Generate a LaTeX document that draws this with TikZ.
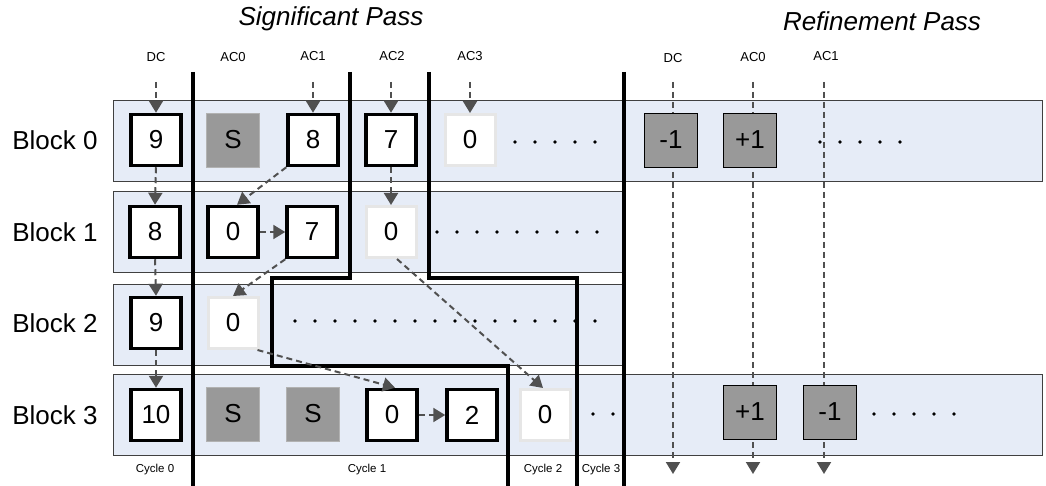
\documentclass[tikz,border=0pt]{standalone}
\usepackage{fontspec}
\setmainfont{Liberation Sans}
\usetikzlibrary{arrows.meta}
\definecolor{bandblue}{RGB}{230,236,247}
\definecolor{boxgray}{RGB}{153,153,153}
\definecolor{flowgray}{RGB}{80,80,80}
\definecolor{lightedge}{RGB}{230,230,230}
\tikzset{
  band/.style={fill=bandblue,draw=black!75,line width=0.9pt},
  sig/.style={draw=black,line width=3.5pt,fill=white,minimum width=50pt,minimum height=51pt,inner sep=0pt,font=\fontsize{26}{30}\selectfont},
  insig/.style={draw=lightedge,line width=3pt,fill=white,minimum width=50pt,minimum height=51pt,inner sep=0pt,font=\fontsize{26}{30}\selectfont},
  sbox/.style={draw=black!30,line width=0.8pt,fill=boxgray,minimum width=53pt,minimum height=54pt,inner sep=0pt,font=\fontsize{26}{30}\selectfont},
  refbox/.style={draw=black,line width=0.9pt,fill=boxgray,minimum width=53pt,minimum height=54pt,inner sep=0pt,font=\fontsize{26}{30}\selectfont},
  flow/.style={draw=flowgray,line width=2pt,dash pattern=on 6pt off 4pt,-{Triangle[length=12pt,width=14pt]}},
  wall/.style={draw=black,line width=3.2pt},
  blocklbl/.style={font=\fontsize{26}{30}\selectfont},
  collbl/.style={font=\fontsize{13}{15}\selectfont},
  cyclbl/.style={font=\fontsize{11.5}{13}\selectfont},
  title/.style={font=\fontsize{26}{30}\selectfont\itshape},
  dotmark/.style={fill=black,circle,inner sep=0pt,minimum size=3.8pt}
}
\begin{document}
\begin{tikzpicture}[x=1pt,y=-1pt]
\useasboundingbox (0,0) rectangle (1046,486);
% bands
\path[band] (113,100) rectangle (1042,181);
\path[band] (113,191) rectangle (622,272);
\path[band] (113,284) rectangle (622,365);
\path[band] (113,374) rectangle (1042,455);
% titles and labels
\node[title] (tsig) at (331,19) {Significant Pass};
\node[title] (tref) at (882,21) {Refinement Pass};
\node[collbl] (lDC) at (156,57) {DC};
\node[collbl] (lAC0) at (233,57) {AC0};
\node[collbl] (lAC1) at (313,56) {AC1};
\node[collbl] (lAC2) at (392,56) {AC2};
\node[collbl] (lAC3) at (470,56) {AC3};
\node[collbl] (rDC) at (673,58) {DC};
\node[collbl] (rAC0) at (753,57) {AC0};
\node[collbl] (rAC1) at (826,56) {AC1};
\node[blocklbl] (bl0) at (55,140) {Block 0};
\node[blocklbl] (bl1) at (55,232) {Block 1};
\node[blocklbl] (bl2) at (55,323) {Block 2};
\node[blocklbl] (bl3) at (55,415) {Block 3};
\node[cyclbl] (cy0) at (155,470) {Cycle 0};
\node[cyclbl] (cy1) at (367,470) {Cycle 1};
\node[cyclbl] (cy2) at (543,470) {Cycle 2};
\node[cyclbl] (cy3) at (601,470) {Cycle 3};
% refinement pass flow lines (behind boxes)
\coordinate (rt0) at (673,82); \coordinate (re0) at (673,474);
\coordinate (rt1) at (753,82); \coordinate (re1) at (753,474);
\coordinate (rt2) at (824,82); \coordinate (re2) at (824,474);
\draw[flow] (rt0) -- (re0);
\draw[flow] (rt1) -- (re1);
\draw[flow] (rt2) -- (re2);
% cycle walls
\draw[wall] (193,72) -- (193,486);
\draw[wall] (350,72) -- (350,278) -- (272,278) -- (272,366) -- (508,366) -- (508,486);
\draw[wall] (429,72) -- (429,278) -- (577,278) -- (577,486);
\draw[wall] (624,72) -- (624,486);
% block 0
\node[sig] (b0c0) at (156,140) {9};
\node[sbox] (b0c1) at (233,140) {S};
\node[sig] (b0c2) at (313,140) {8};
\node[sig] (b0c3) at (391,140) {7};
\node[insig] (b0c4) at (470,140) {0};
\foreach \x in {515,535,...,595} \node[dotmark] at (\x,142) {};
\node[refbox] (r0a) at (671,140) {-1};
\node[refbox] (r0b) at (750,140) {+1};
\foreach \x in {820,840,...,900} \node[dotmark] at (\x,142) {};
% block 1
\node[sig] (b1c0) at (155,232) {8};
\node[sig] (b1c1) at (233,232) {0};
\node[sig] (b1c2) at (312,232) {7};
\node[insig] (b1c3) at (391,232) {0};
\foreach \x in {437,457,...,597} \node[dotmark] at (\x,232) {};
% block 2
\node[sig] (b2c0) at (156,323) {9};
\node[insig] (b2c1) at (233,323) {0};
\foreach \x in {295,315,...,595} \node[dotmark] at (\x,321) {};
% block 3
\node[sig] (b3c0) at (156,415) {10};
\node[sbox] (b3c1) at (233,414) {S};
\node[sbox] (b3c2) at (313,414) {S};
\node[sig] (b3c3) at (392,415) {0};
\node[sig] (b3c4) at (472,415) {2};
\node[insig] (b3c5) at (545,415) {0};
\foreach \x in {593,613} \node[dotmark] at (\x,414) {};
\node[refbox] (r3a) at (750,412) {+1};
\node[refbox] (r3b) at (830,412) {-1};
\foreach \x in {874,894,...,954} \node[dotmark] at (\x,414) {};
% significant pass flow
\coordinate (sDC) at (156,82);
\coordinate (sAC1) at (313,82);
\coordinate (sAC2) at (391,82);
\coordinate (sAC3) at (470,82);
\draw[flow] (sDC) -- (b0c0.north);
\draw[flow] (sAC1) -- (b0c2.north);
\draw[flow] (sAC2) -- (b0c3.north);
\draw[flow] (sAC3) -- (b0c4.north);
\draw[flow] (b0c0.south) -- (b1c0.north);
\draw[flow] (b1c0.south) -- (b2c0.north);
\draw[flow] (b2c0.south) -- (b3c0.north);
\draw[flow] (b0c2.south west) -- ([xshift=4pt]b1c1.north);
\draw[flow] (b0c3.south) -- (b1c3.north);
\draw[flow] (b1c1.east) -- (b1c2.west);
\draw[flow] (b1c2.south west) -- (b2c1.north);
\draw[flow] ([xshift=6pt]b1c3.south) -- ([xshift=-2pt]b3c5.north);
\draw[flow] ([xshift=-2pt]b2c1.south east) -- ([xshift=3pt]b3c3.north);
\draw[flow] (b3c3.east) -- (b3c4.west);
\end{tikzpicture}
\end{document}
